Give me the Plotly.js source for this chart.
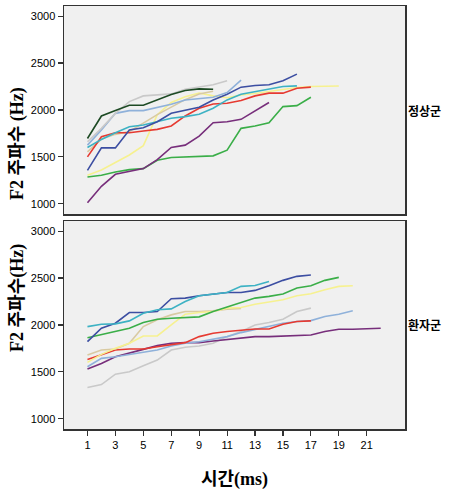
<!DOCTYPE html>
<html>
<head>
<meta charset="utf-8">
<script src="https://cdn.plot.ly/plotly-3.0.1.min.js"></script>
<style>html,body{margin:0;padding:0;background:#fff;}#chart{width:460px;height:499px;}</style>
</head>
<body>
<div id="chart"></div>
<script>
// Shared time axis (ms)
var time = [1,2,3,4,5,6,7,8,9,10,11,12,13,14,15,16,17,18,19,20,21,22];
var xTickVals = [1,3,5,7,9,11,13,15,17,19,21];
var yTickVals = [1000,1500,2000,2500,3000];

// 정상군 (normal group) F2 values
var normDarkGreen = [1696,1936,1993,2050,2050,2107,2164,2207,2225,2221];
var normGray      = [1661,1804,1964,2089,2150,2157,2171,2221,2243,2268,2311];
var normLightBlue = [1625,1786,1964,1993,1993,2029,2061,2107,2121,2136,2186,2318];
var normTan       = [1553,1690,1740,1770,1860,1950,2030,2110,2170,2200];
var normBlue      = [1357,1596,1596,1786,1811,1875,1964,2000,2029,2107,2168,2243,2261,2268,2311,2382];
var normTeal      = [1600,1686,1757,1821,1839,1875,1911,1929,1954,2018,2107,2168,2196,2221,2250,2257];
var normRed       = [1500,1714,1757,1757,1775,1793,1829,1936,2018,2064,2071,2100,2150,2179,2179,2232,2243];
var normYellow    = [1303,1360,1440,1520,1620,1950,2080,2140,2180,2150,2130,2160,2175,2195,2220,2240,2250,2250,2255];
var normPurple    = [1011,1186,1314,1346,1375,1471,1600,1625,1721,1864,1875,1900,1989,2079];
var normGreen     = [1286,1304,1339,1364,1375,1464,1493,1500,1507,1511,1571,1804,1829,1864,2036,2046,2136];

// 환자군 (patient group) F2 values
var patTeal      = [1982,2007,2011,2043,2125,2161,2171,2250,2311,2332,2346,2411,2421,2464];
var patBlue      = [1821,1964,2018,2132,2132,2143,2279,2286,2311,2329,2346,2346,2368,2418,2475,2518,2532];
var patGreen     = [1864,1900,1929,1964,2025,2061,2071,2079,2086,2143,2189,2232,2286,2304,2329,2393,2418,2475,2507];
var patYellow    = [1600,1686,1750,1804,1882,1882,2000,2114,2132,2143,2179,2186,2221,2243,2268,2311,2332,2375,2411,2418];
var patTan       = [1679,1732,1743,1804,1982,2054,2107,2143,2143,2150,2168,2175];
var patGray      = [1332,1364,1475,1500,1564,1625,1732,1761,1775,1804,1875,1929,2000,2025,2061,2143,2179];
var patRed       = [1632,1686,1732,1743,1743,1768,1786,1811,1875,1911,1929,1946,1957,1957,2007,2036,2043];
var patLightBlue = [1554,1643,1661,1686,1707,1732,1775,1804,1821,1846,1875,1918,1954,1982,2018,2036,2046,2089,2114,2150];
var patPurple    = [1529,1589,1661,1704,1739,1779,1804,1811,1811,1829,1846,1857,1875,1875,1882,1882,1893,1929,1954,1954,1957,1964];

var C = {
  darkGreen:'#1d4a24', gray:'#c9c9c9', lightBlue:'#8fb1da', tan:'#d9caa2',
  blue:'#3c4ea2', teal:'#3db2c4', red:'#e63a31', yellow:'#f6f190',
  purple:'#772e7b', green:'#3aae48'
};

function tr(vals, color, xa, ya) {
  return {x: time.slice(0, vals.length), y: vals, xaxis: xa, yaxis: ya,
    type:'scatter', mode:'lines', line:{color:color, width:1.6},
    showlegend:false, hoverinfo:'skip'};
}

var data = [
  tr(normGreen, C.green,'x2','y2'), tr(normPurple, C.purple,'x2','y2'),
  tr(normYellow, C.yellow,'x2','y2'), tr(normTan, C.tan,'x2','y2'),
  tr(normRed, C.red,'x2','y2'), tr(normTeal, C.teal,'x2','y2'),
  tr(normBlue, C.blue,'x2','y2'), tr(normLightBlue, C.lightBlue,'x2','y2'),
  tr(normGray, C.gray,'x2','y2'), tr(normDarkGreen, C.darkGreen,'x2','y2'),

  tr(patGray, C.gray,'x','y'), tr(patPurple, C.purple,'x','y'),
  tr(patLightBlue, C.lightBlue,'x','y'), tr(patRed, C.red,'x','y'),
  tr(patTan, C.tan,'x','y'), tr(patYellow, C.yellow,'x','y'),
  tr(patGreen, C.green,'x','y'), tr(patBlue, C.blue,'x','y'),
  tr(patTeal, C.teal,'x','y')
];

var xr = [-0.68, 23.74];
var yr = [890, 3108];
var tickFont = {family:'Liberation Sans, Arial, sans-serif', size:11, color:'#000'};
var titleFam = 'Liberation Serif, "Noto Sans CJK KR", serif';

function yax(domain, anchor) {
  return {domain:domain, anchor:anchor, range:yr, tickvals:yTickVals,
    ticks:'outside', ticklen:5, tickwidth:1.2, tickcolor:'#333',
    showgrid:false, zeroline:false, showline:true, mirror:true,
    linecolor:'#333', linewidth:1.5, tickfont:tickFont, fixedrange:true};
}

var layout = {
  width:460, height:499,
  margin:{l:64, r:55, t:6, b:70},
  paper_bgcolor:'#ffffff', plot_bgcolor:'#f0f0f0',
  xaxis:{domain:[0,1], anchor:'y', range:xr, tickvals:xTickVals,
    ticks:'outside', ticklen:5, tickwidth:1.2, tickcolor:'#333',
    showgrid:false, zeroline:false, showline:true, mirror:true,
    linecolor:'#333', linewidth:1.5, tickfont:tickFont,
    title:{text:'시간(ms)', font:{family:titleFam, size:18, color:'#000', weight:'bold'}, standoff:22}},
  yaxis: yax([0, 0.4917], 'x'),
  xaxis2:{domain:[0,1], anchor:'y2', range:xr, showticklabels:false, ticks:'',
    showgrid:false, zeroline:false, showline:true, mirror:true,
    linecolor:'#333', linewidth:1.5},
  yaxis2: yax([0.508, 1], 'x2'),
  annotations:[
    {text:'F2 주파수 (Hz)', xref:'paper', yref:'paper', x:-0.138, y:(429-143)/423,
      xanchor:'center', yanchor:'middle', textangle:-90, showarrow:false,
      font:{family:titleFam, size:18, color:'#000', weight:'bold'}},
    {text:'F2 주파수(Hz)', xref:'paper', yref:'paper', x:-0.138, y:(429-298)/423,
      xanchor:'center', yanchor:'middle', textangle:-90, showarrow:false,
      font:{family:titleFam, size:18, color:'#000', weight:'bold'}},
    {text:'정상군', xref:'paper', yref:'paper', x:1.004, y:(429-112)/423,
      xanchor:'left', yanchor:'middle', showarrow:false,
      font:{family:titleFam, size:12, color:'#000', weight:'bold'}},
    {text:'환자군', xref:'paper', yref:'paper', x:1.004, y:(429-326)/423,
      xanchor:'left', yanchor:'middle', showarrow:false,
      font:{family:titleFam, size:12, color:'#000', weight:'bold'}}
  ]
};

Plotly.newPlot('chart', data, layout, {staticPlot:true, displayModeBar:false});
</script>
</body>
</html>
